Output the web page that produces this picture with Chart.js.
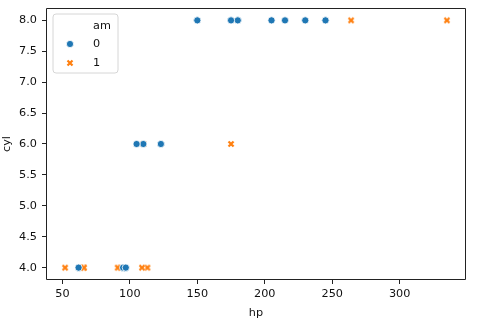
<!DOCTYPE html>
<html>
<head>
<meta charset="utf-8">
<script src="https://cdn.jsdelivr.net/npm/chart.js@4/dist/chart.umd.min.js"></script>
<style>
html,body{margin:0;padding:0;background:#fff;}
#wrap{width:486px;height:324px;}
</style>
</head>
<body>
<div id="wrap"><canvas id="c" width="486" height="324"></canvas></div>
<script>
// mtcars: hp vs cyl, split by am
const hp_am0  = [110,175,105,245,62,95,123,123,180,180,180,205,215,230,97,150,150,245,175];
const cyl_am0 = [6,8,6,8,4,4,6,6,8,8,8,8,8,8,4,8,8,8,8];
const hp_am1  = [110,110,93,66,52,65,66,91,113,264,175,335,109];
const cyl_am1 = [6,6,4,4,4,4,4,4,4,8,6,8,4];
const seriesLabels = ['0','1'];
const legendTitle = 'am';
const xTicks = [50,100,150,200,250,300];
const yTicks = [4.0,4.5,5.0,5.5,6.0,6.5,7.0,7.5,8.0];

const BLUE = '#1f77b4', ORANGE = '#ff7f0e';
const FONT = 'DejaVu Sans';
const FS = 11.25;

function xMarker(size){
  const c = document.createElement('canvas');
  c.width = size; c.height = size;
  const g = c.getContext('2d');
  const a = 1.5, b = size - 1.5;
  g.lineCap = 'butt';
  g.strokeStyle = '#fff'; g.lineWidth = 3.0;
  g.beginPath(); g.moveTo(a,a); g.lineTo(b,b); g.moveTo(b,a); g.lineTo(a,b); g.stroke();
  g.strokeStyle = ORANGE; g.lineWidth = 2.2;
  g.beginPath(); g.moveTo(a,a); g.lineTo(b,b); g.moveTo(b,a); g.lineTo(a,b); g.stroke();
  return c;
}
const xImg = xMarker(8);

const toPts = (xs, ys) => xs.map((x,i)=>({x:x, y:ys[i]}));

const framePlugin = {
  id:'frame',
  afterDraw(chart){
    const {ctx, chartArea:a} = chart;
    ctx.save();
    ctx.strokeStyle = '#222'; ctx.lineWidth = 1;
    const L = Math.round(a.left)+0.5, R = Math.round(a.right)-0.5, T = Math.round(a.top)+0.5, B = Math.round(a.bottom)-0.5;
    ctx.beginPath();
    ctx.moveTo(L, T); ctx.lineTo(R, T); ctx.lineTo(R, B); ctx.lineTo(L, B); ctx.closePath();
    ctx.stroke();
    // legend
    const lx = 53, ly = 14, lw = 65, lh = 59, r = 3;
    ctx.fillStyle = 'rgba(255,255,255,0.8)';
    ctx.strokeStyle = '#d6d6d6';
    ctx.beginPath();
    ctx.moveTo(lx+r, ly); ctx.lineTo(lx+lw-r, ly); ctx.quadraticCurveTo(lx+lw, ly, lx+lw, ly+r);
    ctx.lineTo(lx+lw, ly+lh-r); ctx.quadraticCurveTo(lx+lw, ly+lh, lx+lw-r, ly+lh);
    ctx.lineTo(lx+r, ly+lh); ctx.quadraticCurveTo(lx, ly+lh, lx, ly+lh-r);
    ctx.lineTo(lx, ly+r); ctx.quadraticCurveTo(lx, ly, lx+r, ly);
    ctx.closePath(); ctx.fill(); ctx.stroke();
    ctx.fillStyle = '#111';
    ctx.font = FS + 'px "' + FONT + '"';
    ctx.textBaseline = 'middle'; ctx.textAlign = 'left';
    ctx.fillText(legendTitle, 93, 26);
    ctx.fillText(seriesLabels[0], 93, 44);
    ctx.fillText(seriesLabels[1], 93, 63);
    ctx.beginPath(); ctx.arc(70, 44, 3.6, 0, Math.PI*2);
    ctx.fillStyle = BLUE; ctx.fill();
    ctx.strokeStyle = '#fff'; ctx.lineWidth = 0.8; ctx.stroke();
    ctx.drawImage(xImg, 70 - xImg.width/2, 63 - xImg.height/2);
    ctx.restore();
  }
};

new Chart(document.getElementById('c'), {
  type:'scatter',
  data:{
    datasets:[
      {label:seriesLabels[0], data:toPts(hp_am0, cyl_am0), backgroundColor:BLUE, borderColor:'#fff', borderWidth:0.8, pointRadius:3.6, pointHoverRadius:3.6, pointStyle:'circle'},
      {label:seriesLabels[1], data:toPts(hp_am1, cyl_am1), backgroundColor:ORANGE, borderColor:ORANGE, pointRadius:4, pointStyle:xImg}
    ]
  },
  options:{
    responsive:false, animation:false, devicePixelRatio:1,
    layout:{padding:{top:8, right:20, left:0, bottom:0}},
    plugins:{legend:{display:false}, tooltip:{enabled:false}},
    scales:{
      x:{
        type:'linear', min:37.85, max:349.15,
        afterBuildTicks: s => { s.ticks = xTicks.map(v=>({value:v})); },
        afterFit: s => { s.height = 44; s.paddingLeft = 0; s.paddingRight = 0; },
        grid:{display:true, drawOnChartArea:false, drawTicks:true, tickLength:4, tickColor:'#222'},
        border:{display:false},
        ticks:{color:'#111', font:{family:FONT, size:FS}, padding:3, maxRotation:0, callback:v=>String(v)},
        title:{display:true, text:'hp', color:'#111', font:{family:FONT, size:FS}, padding:{top:0, bottom:4}}
      },
      y:{
        type:'linear', min:3.8, max:8.2,
        afterBuildTicks: s => { s.ticks = yTicks.map(v=>({value:v})); },
        afterFit: s => { s.width = 46; s.paddingTop = 0; s.paddingBottom = 0; },
        grid:{display:true, drawOnChartArea:false, drawTicks:true, tickLength:4, tickColor:'#222'},
        border:{display:false},
        ticks:{color:'#111', font:{family:FONT, size:FS}, padding:5, callback:v=>Number(v).toFixed(1)},
        title:{display:true, text:'cyl', color:'#111', font:{family:FONT, size:FS}, padding:{top:0, bottom:0}}
      }
    }
  },
  plugins:[framePlugin]
});
</script>
</body>
</html>
